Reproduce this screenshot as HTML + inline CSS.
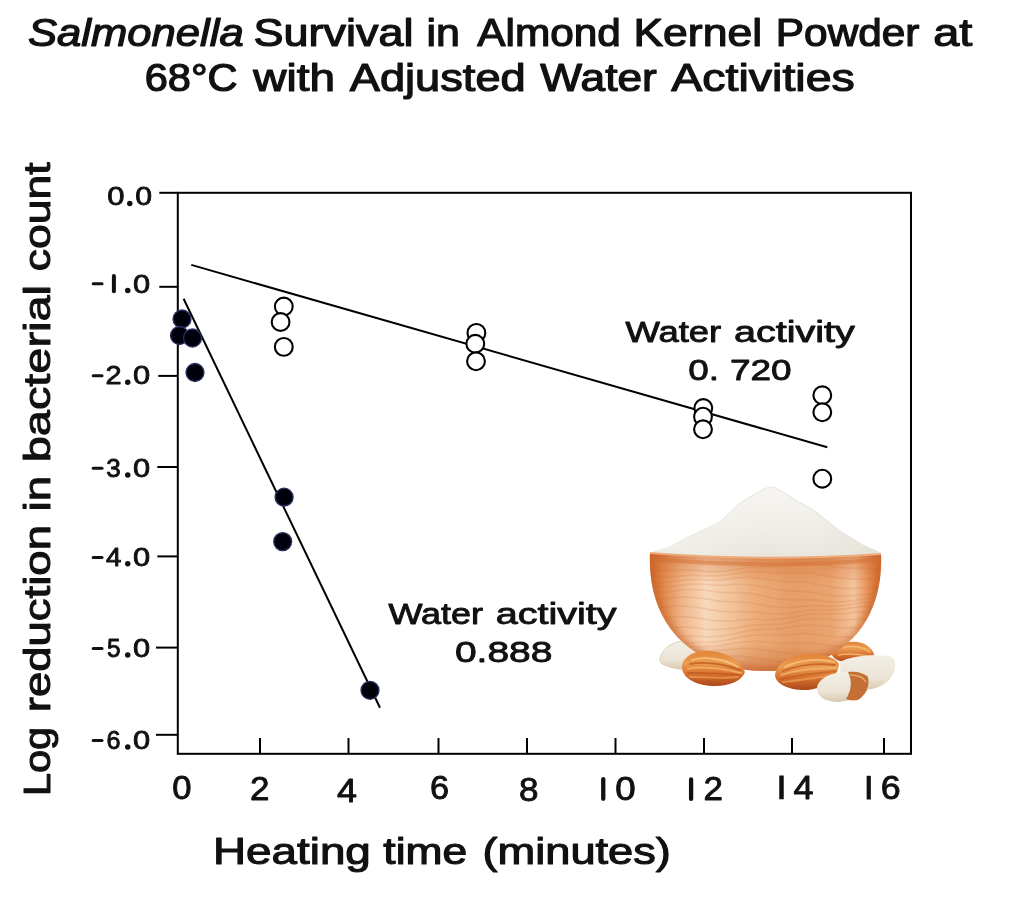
<!DOCTYPE html>
<html><head><meta charset="utf-8">
<style>
html,body{margin:0;padding:0;background:#fff;width:1010px;height:900px;overflow:hidden}
svg{display:block;will-change:transform}
text{font-family:"Liberation Sans",sans-serif;font-size:100px;fill:#111;stroke:#111;stroke-linejoin:round}
</style></head><body>
<svg width="1010" height="900" viewBox="0 0 1010 900">
<!-- axes frame -->
<g stroke="#000" stroke-width="2" fill="none">
<rect x="177.8" y="192.8" width="733.2" height="561"/>
<line x1="159.3" y1="192.8" x2="177.8" y2="192.8"/>
<line x1="159.3" y1="286.8" x2="177.8" y2="286.8"/>
<line x1="158.3" y1="375.9" x2="177.8" y2="375.9"/>
<line x1="157.3" y1="467" x2="177.8" y2="467"/>
<line x1="157.3" y1="556.4" x2="177.8" y2="556.4"/>
<line x1="156" y1="647.6" x2="177.8" y2="647.6"/>
<line x1="156" y1="734.8" x2="177.8" y2="734.8"/>
<line x1="260" y1="738" x2="260" y2="753.8"/>
<line x1="348.5" y1="738" x2="348.5" y2="753.8"/>
<line x1="438.5" y1="738" x2="438.5" y2="753.8"/>
<line x1="527" y1="738" x2="527" y2="753.8"/>
<line x1="615.5" y1="738" x2="615.5" y2="753.8"/>
<line x1="704" y1="738" x2="704" y2="753.8"/>
<line x1="792" y1="738" x2="792" y2="753.8"/>
<line x1="884" y1="738" x2="884" y2="753.8"/>
</g>
<!-- minus signs, ones, dots -->
<g stroke="#111" stroke-linecap="round" fill="none">
<g stroke-width="3">
<line x1="93.2" y1="283.8" x2="102" y2="283.8"/>
<line x1="93.2" y1="375.8" x2="102" y2="375.8"/>
<line x1="93.2" y1="468.2" x2="102" y2="468.2"/>
<line x1="93.2" y1="557.4" x2="102" y2="557.4"/>
<line x1="93.2" y1="648.6" x2="102" y2="648.6"/>
<line x1="93.2" y1="740.6" x2="102" y2="740.6"/>
</g>
<line x1="113.9" y1="275.9" x2="113.9" y2="291.3" stroke-width="4"/>
<g stroke-width="4.3">
<line x1="603.25" y1="779.2" x2="603.25" y2="798.8"/>
<line x1="691.1" y1="779.4" x2="691.1" y2="798.9"/>
<line x1="781.5" y1="775.5" x2="781.5" y2="799.25" stroke-linecap="butt" stroke-width="4.5"/>
<line x1="868.75" y1="775.8" x2="868.75" y2="799.5" stroke-linecap="butt" stroke-width="4.2"/>
</g>
</g>
<g fill="#111">
<circle cx="129.75" cy="203.4" r="2.75"/>
<circle cx="127.75" cy="290.6" r="2.75"/>
<circle cx="127.75" cy="382.2" r="2.75"/>
<circle cx="127.75" cy="475" r="2.75"/>
<circle cx="127.75" cy="563.8" r="2.75"/>
<circle cx="127.75" cy="655" r="2.75"/>
<circle cx="127.75" cy="747" r="2.75"/>
</g>
<text transform="translate(28.04,46.05) scale(0.4361,0.3841)" font-style="italic" stroke-width="3.177">Salmonella</text>
<text transform="translate(253.40,46.05) scale(0.4500,0.3841)" stroke-width="3.127">Survival</text>
<text transform="translate(426.47,46.05) scale(0.4303,0.3841)" stroke-width="3.198">in</text>
<text transform="translate(477.25,46.05) scale(0.4237,0.3841)" stroke-width="3.223">Almond</text>
<text transform="translate(633.39,46.05) scale(0.4455,0.3841)" stroke-width="3.143">Kernel</text>
<text transform="translate(775.86,46.05) scale(0.4236,0.3841)" stroke-width="3.223">Powder</text>
<text transform="translate(933.27,46.05) scale(0.4696,0.3841)" stroke-width="3.061">at</text>
<text transform="translate(144.67,91.45) scale(0.4164,0.3841)" stroke-width="3.251">68°C</text>
<text transform="translate(253.25,91.45) scale(0.4599,0.3841)" stroke-width="3.093">with</text>
<text transform="translate(349.75,91.45) scale(0.4522,0.3841)" stroke-width="3.119">Adjusted</text>
<text transform="translate(540.35,91.45) scale(0.4431,0.3841)" stroke-width="3.151">Water</text>
<text transform="translate(671.35,91.45) scale(0.4652,0.3841)" stroke-width="3.076">Activities</text>
<text transform="translate(213.04,864.00) scale(0.4579,0.3638)" stroke-width="2.940">Heating</text>
<text transform="translate(383.36,864.00) scale(0.4435,0.3638)" stroke-width="2.988">time</text>
<text transform="translate(482.49,864.00) scale(0.4523,0.3638)" stroke-width="2.958">(minutes)</text>
<text transform="translate(50.35,0) rotate(-90) translate(-796.07,0) scale(0.4150,0.3783)" stroke-width="2.776">Log</text>
<text transform="translate(50.35,0) rotate(-90) translate(-712.18,0) scale(0.4551,0.3783)" stroke-width="2.651">reduction</text>
<text transform="translate(50.35,0) rotate(-90) translate(-511.50,0) scale(0.4576,0.3783)" stroke-width="2.644">in</text>
<text transform="translate(50.35,0) rotate(-90) translate(-462.26,0) scale(0.4689,0.3783)" stroke-width="2.612">bacterial</text>
<text transform="translate(50.35,0) rotate(-90) translate(-271.23,0) scale(0.4454,0.3783)" stroke-width="2.680">count</text>
<text transform="translate(625.40,341.70) scale(0.3645,0.2913)" stroke-width="3.069">Water</text>
<text transform="translate(733.92,341.70) scale(0.3957,0.2913)" stroke-width="2.945">activity</text>
<text transform="translate(388.40,623.70) scale(0.3599,0.2913)" stroke-width="3.088">Water</text>
<text transform="translate(495.72,623.70) scale(0.3957,0.2913)" stroke-width="2.945">activity</text>
<text transform="translate(688.32,379.70) scale(0.3690,0.2986)" stroke-width="3.013">0.</text>
<text transform="translate(729.95,379.70) scale(0.3696,0.2986)" stroke-width="3.010">720</text>
<text transform="translate(454.94,661.70) scale(0.3897,0.2986)" stroke-width="2.932">0.888</text>
<text transform="translate(172.32,798.72) scale(0.3458,0.3324)" stroke-width="2.654">0</text>
<text transform="translate(249.95,800.30) scale(0.3500,0.3264)" stroke-width="2.663">2</text>
<text transform="translate(336.98,801.80) scale(0.3598,0.3300)" stroke-width="2.612">4</text>
<text transform="translate(430.04,799.22) scale(0.3426,0.3254)" stroke-width="2.696">6</text>
<text transform="translate(519.05,801.47) scale(0.3510,0.3254)" stroke-width="2.663">8</text>
<text transform="translate(615.23,800.22) scale(0.3667,0.3254)" stroke-width="2.606">0</text>
<text transform="translate(703.45,800.30) scale(0.3500,0.3264)" stroke-width="2.663">2</text>
<text transform="translate(793.48,798.55) scale(0.3598,0.3300)" stroke-width="2.612">4</text>
<text transform="translate(880.66,798.72) scale(0.3585,0.3324)" stroke-width="2.607">6</text>
<text transform="translate(107.21,205.39) scale(0.3104,0.2606)" stroke-width="3.165">0</text>
<text transform="translate(135.34,205.39) scale(0.3021,0.2606)" stroke-width="3.208">0</text>
<text transform="translate(105.40,384.45) scale(0.2891,0.2643)" stroke-width="3.256">2</text>
<text transform="translate(106.21,476.99) scale(0.2604,0.2606)" stroke-width="3.455">3</text>
<text transform="translate(105.90,566.05) scale(0.2765,0.2586)" stroke-width="3.366">4</text>
<text transform="translate(107.08,656.99) scale(0.2438,0.2586)" stroke-width="3.585">5</text>
<text transform="translate(106.39,748.98) scale(0.2511,0.2662)" stroke-width="3.481">6</text>
<text transform="translate(133.12,292.59) scale(0.3083,0.2606)" stroke-width="3.175">0</text>
<text transform="translate(133.12,384.19) scale(0.3083,0.2606)" stroke-width="3.175">0</text>
<text transform="translate(133.12,476.99) scale(0.3083,0.2606)" stroke-width="3.175">0</text>
<text transform="translate(133.12,565.80) scale(0.3083,0.2493)" stroke-width="3.246">0</text>
<text transform="translate(133.12,657.00) scale(0.3083,0.2549)" stroke-width="3.210">0</text>
<text transform="translate(133.12,749.00) scale(0.3083,0.2493)" stroke-width="3.246">0</text>
<!-- regression lines -->
<g stroke="#000" stroke-width="2">
<line x1="191.3" y1="264.9" x2="827.3" y2="447.3"/>
<line x1="183.6" y1="298.7" x2="380" y2="707.8"/>
</g>
<!-- open circles -->
<g fill="#fff" stroke="#000" stroke-width="2.1">
<circle cx="283.8" cy="306.5" r="8.9"/>
<circle cx="280.6" cy="322" r="8.9"/>
<circle cx="283.8" cy="346.9" r="8.9"/>
<circle cx="476.4" cy="332.9" r="8.9"/>
<circle cx="475.3" cy="343.8" r="8.9"/>
<circle cx="476" cy="361.3" r="8.9"/>
<circle cx="703.3" cy="408" r="8.9"/>
<circle cx="703" cy="416.7" r="8.9"/>
<circle cx="703" cy="429.3" r="8.9"/>
<circle cx="822.3" cy="395.3" r="8.9"/>
<circle cx="822.3" cy="412.3" r="8.9"/>
<circle cx="822.3" cy="478.7" r="8.9"/>
</g>
<!-- filled circles -->
<g fill="#03030c" stroke="#2c3264" stroke-width="1.3" filter="url(#blur1)">
<circle cx="182" cy="319" r="9"/>
<circle cx="179.5" cy="335.5" r="9"/>
<circle cx="192.5" cy="338" r="9"/>
<circle cx="195" cy="372.5" r="9"/>
<circle cx="284.1" cy="497.2" r="9"/>
<circle cx="282.7" cy="541.6" r="9"/>
<circle cx="370" cy="690.3" r="9"/>
</g>
<!-- bowl illustration -->
<g id="bowl">
<defs>
<linearGradient id="bowlG" x1="650" y1="0" x2="882" y2="0" gradientUnits="userSpaceOnUse">
<stop offset="0" stop-color="#d06a2e"/>
<stop offset="0.05" stop-color="#df8446"/>
<stop offset="0.14" stop-color="#efb68a"/>
<stop offset="0.24" stop-color="#f8d8bb"/>
<stop offset="0.33" stop-color="#f3c7a0"/>
<stop offset="0.45" stop-color="#ecac7a"/>
<stop offset="0.62" stop-color="#e79d66"/>
<stop offset="0.78" stop-color="#eaa470"/>
<stop offset="0.88" stop-color="#f3c39c"/>
<stop offset="0.95" stop-color="#e3894c"/>
<stop offset="1" stop-color="#cc6a30"/>
</linearGradient>
<linearGradient id="bowlV" x1="0" y1="553" x2="0" y2="672" gradientUnits="userSpaceOnUse">
<stop offset="0" stop-color="#c8612a" stop-opacity="0.6"/>
<stop offset="0.1" stop-color="#d06a2e" stop-opacity="0.3"/>
<stop offset="0.25" stop-color="#d06a2e" stop-opacity="0"/>
<stop offset="0.75" stop-color="#d06a2e" stop-opacity="0"/>
<stop offset="1" stop-color="#b85a24" stop-opacity="0.5"/>
</linearGradient>
<linearGradient id="powG" x1="0" y1="486" x2="0" y2="557" gradientUnits="userSpaceOnUse">
<stop offset="0" stop-color="#f6f5f1"/>
<stop offset="0.55" stop-color="#f0eee8"/>
<stop offset="1" stop-color="#e8e5dc"/>
</linearGradient>
<linearGradient id="powH" x1="650" y1="0" x2="882" y2="0" gradientUnits="userSpaceOnUse">
<stop offset="0" stop-color="#ffffff" stop-opacity="0.35"/>
<stop offset="0.5" stop-color="#ffffff" stop-opacity="0"/>
<stop offset="1" stop-color="#d8d4c8" stop-opacity="0.35"/>
</linearGradient>
<linearGradient id="almG" x1="0" y1="0" x2="0" y2="1">
<stop offset="0" stop-color="#e28438"/>
<stop offset="0.35" stop-color="#eb9c50"/>
<stop offset="0.7" stop-color="#d46c2a"/>
<stop offset="1" stop-color="#a9481a"/>
</linearGradient>
<linearGradient id="whG" x1="0" y1="0" x2="0" y2="1">
<stop offset="0" stop-color="#f3efe6"/>
<stop offset="0.65" stop-color="#ebe4d6"/>
<stop offset="1" stop-color="#d9c9ae"/>
</linearGradient>
<clipPath id="bowlClip"><path d="M650,553 C647,628 696,671 766,671 C836,671 884,628 881,554 Q766,561 650,553 Z"/></clipPath>
<filter id="blur3" x="-20%" y="-20%" width="140%" height="140%"><feGaussianBlur stdDeviation="3"/></filter>
<filter id="blur1" x="-20%" y="-20%" width="140%" height="140%"><feGaussianBlur stdDeviation="0.6"/></filter>
</defs>
<!-- back almond right -->
<path d="M832,650 C838,642 852,640 862,643 C870,646 875,652 874,657 C866,662 850,663 840,661 C834,659 830,655 832,650 Z" fill="url(#almG)"/>
<path d="M840,648 C850,645 862,646 870,652 M838,655 C850,653 860,654 872,657" stroke="#f5bf7c" stroke-width="1.6" fill="none" opacity="0.8"/>
<!-- left white almond -->
<path d="M660,659 C661,650 670,643 682,641 C692,640 700,643 704,648 L706,668 C696,671 680,670 670,667 C663,665 659,663 660,659 Z" fill="url(#whG)" stroke="#dcc4a4" stroke-width="0.8"/>
<!-- bowl body -->
<path d="M650,553 C647,628 696,671 766,671 C836,671 884,628 881,554 Q766,561 650,553 Z" fill="url(#bowlG)"/>
<path d="M650,553 C647,628 696,671 766,671 C836,671 884,628 881,554 Q766,561 650,553 Z" fill="url(#bowlV)"/>
<g clip-path="url(#bowlClip)"><path d="M650,553 C647,628 696,671 766,671 C836,671 884,628 881,554" fill="none" stroke="#c8642a" stroke-width="9" opacity="0.55" filter="url(#blur3)"/></g>
<g clip-path="url(#bowlClip)" stroke="#c9682e" stroke-width="1.6" fill="none" opacity="0.16">
<path d="M645,568.0 Q660.0,571.4 675,570.7 Q690.0,569.1 705,571.4 Q720.0,572.5 735,569.5 Q750.0,566.0 765,566.5 Q780.0,567.5 795,564.6 Q810.0,562.9 825,565.3 Q840.0,568.7 855,568.1 Q870.0,567.4 885,570.8"/>
<path d="M645,574.9 Q660.0,577.8 675,576.8 Q690.0,574.3 705,575.9 Q720.0,576.7 735,573.5 Q750.0,570.6 765,571.8 Q780.0,574.1 795,572.5 Q810.0,572.0 825,575.5 Q840.0,579.3 855,579.0 Q870.0,577.9 885,580.8"/>
<path d="M645,581.4 Q660.0,583.5 675,581.5 Q690.0,578.6 705,579.7 Q720.0,580.9 735,578.1 Q750.0,576.4 765,578.6 Q780.0,582.1 795,581.7 Q810.0,581.7 825,585.7 Q840.0,589.1 855,588.5 Q870.0,586.5 885,588.6"/>
<path d="M645,587.2 Q660.0,588.5 675,585.9 Q690.0,583.0 705,584.2 Q720.0,586.2 735,584.3 Q750.0,583.7 765,587.0 Q780.0,591.1 795,591.2 Q810.0,590.9 825,594.6 Q840.0,597.1 855,595.5 Q870.0,592.9 885,594.2"/>
<path d="M645,592.8 Q660.0,593.8 675,590.8 Q690.0,588.6 705,590.3 Q720.0,593.4 735,592.4 Q750.0,592.4 765,596.4 Q780.0,600.2 795,600.0 Q810.0,598.7 825,601.4 Q840.0,602.9 855,600.4 Q870.0,597.4 885,598.4"/>
<path d="M645,598.9 Q660.0,600.2 675,597.5 Q690.0,596.1 705,598.6 Q720.0,602.3 735,602.0 Q750.0,601.7 765,605.5 Q780.0,608.3 795,607.2 Q810.0,604.7 825,606.2 Q840.0,607.0 855,603.8 Q870.0,601.2 885,602.5"/>
<path d="M645,606.3 Q660.0,608.3 675,606.2 Q690.0,605.5 705,608.7 Q720.0,612.3 735,611.8 Q750.0,610.7 765,613.5 Q780.0,615.0 795,612.5 Q810.0,609.1 825,609.7 Q840.0,610.6 855,607.4 Q870.0,605.4 885,607.5"/>
<path d="M645,615.3 Q660.0,618.0 675,616.7 Q690.0,616.0 705,619.3 Q720.0,622.0 735,620.8 Q750.0,618.3 765,619.8 Q780.0,620.2 795,616.7 Q810.0,613.1 825,613.5 Q840.0,614.9 855,612.3 Q870.0,611.0 885,613.8"/>
<path d="M645,625.5 Q660.0,628.5 675,627.5 Q690.0,626.2 705,629.0 Q720.0,630.5 735,628.1 Q750.0,624.5 765,624.8 Q780.0,624.9 795,620.9 Q810.0,617.8 825,618.7 Q840.0,620.9 855,619.1 Q870.0,618.2 885,621.2"/>
<path d="M645,635.8 Q660.0,638.6 675,637.3 Q690.0,635.1 705,636.8 Q720.0,637.2 735,633.7 Q750.0,629.5 765,629.4 Q780.0,629.9 795,626.4 Q810.0,624.2 825,626.0 Q840.0,628.8 855,627.6 Q870.0,626.4 885,629.2"/>
<path d="M645,644.9 Q660.0,647.0 675,645.0 Q690.0,641.7 705,642.4 Q720.0,642.3 735,638.2 Q750.0,634.5 765,634.8 Q780.0,636.3 795,633.8 Q810.0,632.5 825,635.2 Q840.0,638.0 855,636.9 Q870.0,634.9 885,636.9"/>
<path d="M645,651.9 Q660.0,653.0 675,650.1 Q690.0,646.3 705,646.5 Q720.0,646.7 735,643.0 Q750.0,640.3 765,641.7 Q780.0,644.3 795,642.9 Q810.0,642.0 825,645.1 Q840.0,647.5 855,646.0 Q870.0,643.1 885,644.2"/>
<path d="M645,656.3 Q660.0,656.9 675,653.5 Q690.0,649.8 705,650.2 Q720.0,651.5 735,648.9 Q750.0,647.5 765,650.1 Q780.0,653.5 795,652.8 Q810.0,651.7 825,654.6 Q840.0,656.3 855,654.0 Q870.0,650.5 885,651.0"/>
<path d="M645,659.1 Q660.0,659.7 675,656.3 Q690.0,653.7 705,655.0 Q720.0,657.6 735,656.3 Q750.0,655.9 765,659.5 Q780.0,662.9 795,662.3 Q810.0,660.5 825,662.8 Q840.0,663.8 855,660.8 Q870.0,657.4 885,658.1"/>
</g>
<!-- powder -->
<path d="M652,553 L656,551 L660,550 L664,548.5 L669,547.5 L675,544 L681,541 L687,537.5 L693.5,534.5 L699,532 L705,529 L711,526.5 L717.8,523.5 L724,518.5 L730,513 L736,507 L742,501.7 L746,499.5 L750,497 L754,494.5 L759,492 C764,489 768,487 771,487 C776,487 782,491 790.6,496.8 L790.6,496.8 L796,500.5 L803,504 L809,507.5 L815,511.4 L821,516 L827,521 L833,526 L839,530.8 L845,534.5 L851,538 L857,541.5 L863.4,545.4 L869,548 L875.6,550.2 L881,554 Q766,561 652,553 Z" fill="url(#powG)" stroke="#e9e7e0" stroke-width="1.2" stroke-linejoin="round"/>
<path d="M652,553 L681,541 L717.8,523.5 L742,501.7 L771,487 L815,511.4 L863.4,545.4 L881,554 Q766,561 652,553 Z" fill="url(#powH)"/>
<!-- rim -->
<path d="M650,553 Q766,562 881,554" fill="none" stroke="#eeac7c" stroke-width="2.2"/>
<path d="M651,559 Q766,569 880,560" fill="none" stroke="#d26f34" stroke-width="4" opacity="0.45"/>
<!-- front left brown almond -->
<path d="M682,667 C682,657 694,650 710,651 C726,652 740,660 745,672 C742,681 728,687 712,686 C694,685 682,677 682,667 Z" fill="url(#almG)"/>
<g stroke-width="1.8" fill="none" stroke-linecap="round">
<path d="M692,660 C705,656 725,659 738,667" stroke="#f7c27e" opacity="0.9"/>
<path d="M688,669 C703,666 724,669 741,673" stroke="#f4b46c" opacity="0.8"/>
<path d="M690,677 C705,677 722,679 738,677" stroke="#f0a860" opacity="0.6"/>
<path d="M690,664 C705,661 725,664 740,670" stroke="#b8521c" opacity="0.7"/>
<path d="M688,673 C703,672 724,674 740,675" stroke="#b8521c" opacity="0.6"/>
</g>
<!-- center brown almond -->
<path d="M775,675 C776,664 790,655 806,654 C822,653 836,658 839,664 C838,677 826,688 808,690 C790,691 775,684 775,675 Z" fill="url(#almG)"/>
<g stroke-width="1.8" fill="none" stroke-linecap="round">
<path d="M785,667 C798,660 818,658 834,662" stroke="#f7c27e" opacity="0.9"/>
<path d="M781,675 C796,670 818,668 836,668" stroke="#f4b46c" opacity="0.8"/>
<path d="M783,682 C800,680 818,678 832,675" stroke="#f0a860" opacity="0.6"/>
<path d="M783,671 C798,665 818,663 835,665" stroke="#b8521c" opacity="0.7"/>
<path d="M781,679 C798,675 818,673 836,671" stroke="#b8521c" opacity="0.5"/>
</g>
<!-- right white long piece -->
<path d="M840,662 C850,656 872,654 888,656 C894,657 896,661 895,668 C893,678 885,686 872,689 C860,691 848,690 841,686 Z" fill="url(#whG)"/>

<!-- front piece -->
<path d="M817,690 C816,682 824,676 836,673 C848,671 858,672 866,676 L868,690 C862,697 850,701 838,702 C826,702 818,697 817,690 Z" fill="url(#whG)"/>
<path d="M848,672 C856,671 864,673 868,677 C870,686 866,695 858,700 C852,701 848,700 846,699 C852,690 852,680 848,672 Z" fill="#c46f35"/>
<path d="M850,675 C858,675 864,678 866,682" stroke="#eaa66a" stroke-width="1.5" fill="none"/>
</g>
</svg>
</body></html>
